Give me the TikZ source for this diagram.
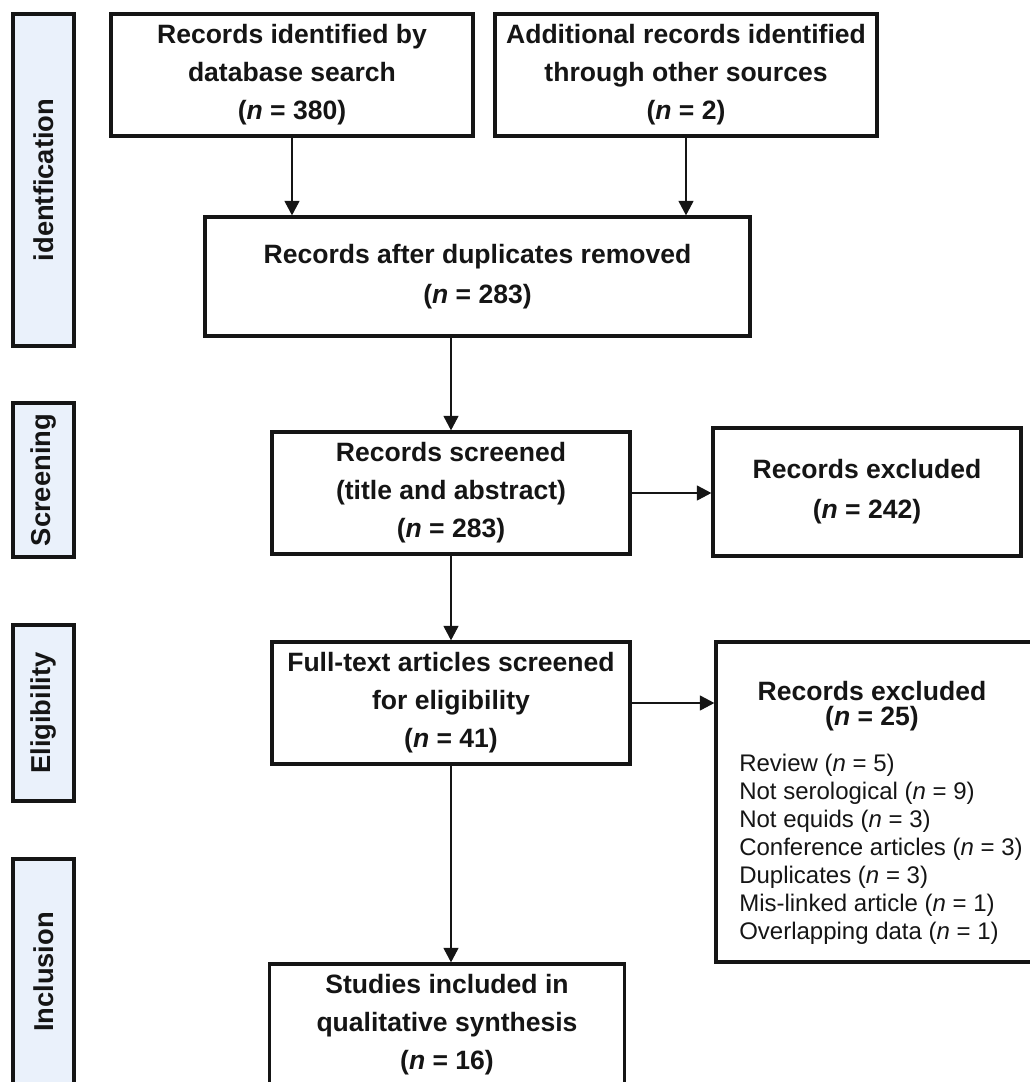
\documentclass[tikz,border=0pt]{standalone}
\usepackage{fontspec}
\setmainfont{Liberation Sans}
\usetikzlibrary{arrows.meta}
\definecolor{barfill}{HTML}{EAF1FB}
\definecolor{ink}{HTML}{151515}
\begin{document}
\begin{tikzpicture}[x=0.75pt,y=-0.75pt,
  wh/.style 2 args={minimum width=#1*0.75pt, minimum height=#2*0.75pt},
  box/.style={draw=ink, line width=2.3pt, fill=white, inner sep=0pt, align=center, text=ink,
    font=\fontsize{19.9}{28.5}\selectfont\bfseries},
  bar/.style={draw=ink, line width=2.3pt, fill=barfill, inner sep=0pt, text=ink,
    font=\fontsize{20.5}{24}\selectfont\bfseries},
  arr/.style={draw=ink, line width=2pt, -{Triangle[length=11pt,width=11pt]}}]
\useasboundingbox (0,0) rectangle (1029,1082);
% stage bars
\node[bar,rotate=90,wh={332}{61}] (idbar) at (43.5,180) {identfication};
\node[bar,rotate=90,wh={154}{61}] (scbar) at (43.5,480) {Screening};
\node[bar,rotate=90,wh={176}{61}] (elbar) at (43.5,713) {Eligibility};
\node[bar,rotate=90,wh={226}{61}] (inbar) at (43.5,972) {Inclusion};
% boxes
\node[box,wh={362}{122}] (b1) at (292,75) {Records identified by\\database search\\(\textit{n} = 380)};
\node[box,wh={382}{122}] (b2) at (686,75) {Additional records identified\\through other sources\\(\textit{n} = 2)};
\node[box,wh={545}{119},font=\fontsize{19.9}{30}\selectfont\bfseries] (b3) at (477.5,276.5) {Records after duplicates removed\\(\textit{n} = 283)};
\node[box,wh={358}{122}] (b4) at (451,493) {Records screened\\(title and abstract)\\(\textit{n} = 283)};
\node[box,wh={308}{128},font=\fontsize{19.9}{30}\selectfont\bfseries] (b5) at (867,492) {Records excluded\\(\textit{n} = 242)};
\node[box,wh={358}{122}] (b6) at (451,703) {Full-text articles screened\\for eligibility\\(\textit{n} = 41)};
\node[box,wh={316}{320}] (b7) at (874,802) {};
\node[inner sep=0pt,align=center,text=ink,font=\fontsize{19.9}{19}\selectfont\bfseries] (b7head) at (872,706) {Records excluded\\(\textit{n} = 25)};
\node[inner sep=0pt,align=left,text=ink,anchor=north west,font=\fontsize{18}{21}\selectfont] (b7list) at (739,754)
  {Review (\textit{n} = 5)\\Not serological (\textit{n} = 9)\\Not equids (\textit{n} = 3)\\Conference articles (\textit{n} = 3)\\Duplicates (\textit{n} = 3)\\Mis-linked article (\textit{n} = 1)\\Overlapping data (\textit{n} = 1)};
\node[box,wh={355}{122}] (b8) at (447,1025) {Studies included in\\qualitative synthesis\\(\textit{n} = 16)};
% connectors
\draw[arr] (b1.south) -- (b1.south |- b3.north);
\draw[arr] (b2.south) -- (b2.south |- b3.north);
\draw[arr] (b4.north |- b3.south) -- (b4.north);
\draw[arr] (b4.east) -- (b4.east -| b5.west);
\draw[arr] (b4.south) -- (b6.north);
\draw[arr] (b6.east) -- (b6.east -| b7.west);
\draw[arr] (b6.south) -- (b6.south |- b8.north);
\end{tikzpicture}
\end{document}
